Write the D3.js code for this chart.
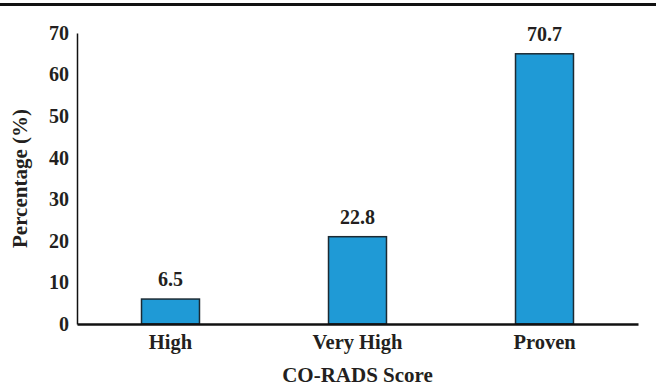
<!DOCTYPE html>
<html>
<head>
<meta charset="utf-8">
<script src="https://cdn.jsdelivr.net/npm/d3@7"></script>
<style>
  html, body { margin: 0; padding: 0; background: #fff; }
  svg { display: block; }
  text { font-family: "Liberation Serif", "Times New Roman", serif; font-weight: bold; fill: #231f20; }
</style>
</head>
<body>
<svg id="chart" width="656" height="390"></svg>
<script>
const categories = ["High", "Very High", "Proven"];
const barValues = [6, 21, 65];
const valueLabels = ["6.5", "22.8", "70.7"];
const yTicks = [0, 10, 20, 30, 40, 50, 60, 70];

const W = 656, H = 390;
const margin = { left: 77, right: 18, top: 33, bottom: 66 };
const svg = d3.select("#chart");

// top rule
svg.append("line").attr("x1", 0).attr("x2", W).attr("y1", 4.5).attr("y2", 4.5)
  .attr("stroke", "#111").attr("stroke-width", 3);

const x = d3.scaleBand().domain(categories)
  .range([margin.left, W - margin.right]).paddingInner(0.69).paddingOuter(0.345);
const y = d3.scaleLinear().domain([0, 70]).range([H - margin.bottom, margin.top]);

// bars
svg.selectAll("rect.bar").data(categories).join("rect")
  .attr("class", "bar")
  .attr("x", d => x(d))
  .attr("width", x.bandwidth())
  .attr("y", (d, i) => y(barValues[i]))
  .attr("height", (d, i) => y(0) - y(barValues[i]))
  .attr("fill", "#1f9ad6")
  .attr("stroke", "#1c2a33")
  .attr("stroke-width", 1.5);

// value labels
svg.selectAll("text.val").data(categories).join("text")
  .attr("class", "val")
  .attr("x", d => x(d) + x.bandwidth() / 2)
  .attr("y", (d, i) => y(barValues[i]) - 13)
  .attr("text-anchor", "middle")
  .attr("font-size", 20)
  .text((d, i) => valueLabels[i]);

// y axis
const yAxis = d3.axisLeft(y).tickValues(yTicks).tickSize(0).tickPadding(8);
const gy = svg.append("g").attr("transform", `translate(${margin.left},0)`).call(yAxis);
gy.select(".domain").attr("stroke", "#111").attr("stroke-width", 1.5);
gy.selectAll("text").attr("font-size", 20).attr("font-family", "Liberation Serif, serif")
  .attr("font-weight", "bold").attr("fill", "#231f20");

// x axis
const xAxis = d3.axisBottom(x).tickSize(0).tickPadding(10);
const gx = svg.append("g").attr("transform", `translate(0,${y(0)})`).call(xAxis);
gx.select(".domain").attr("stroke", "#111").attr("stroke-width", 2.5);
gx.selectAll("text").attr("font-size", 20.5).attr("font-family", "Liberation Serif, serif")
  .attr("font-weight", "bold").attr("fill", "#231f20");

// axis titles
svg.append("text")
  .attr("x", (margin.left + W - margin.right) / 2)
  .attr("y", 382)
  .attr("text-anchor", "middle")
  .attr("font-size", 21)
  .text("CO-RADS Score");

svg.append("text")
  .attr("transform", `translate(27,${(y(0) + y(70)) / 2}) rotate(-90)`)
  .attr("text-anchor", "middle")
  .attr("font-size", 21)
  .text("Percentage (%)");
</script>
</body>
</html>
